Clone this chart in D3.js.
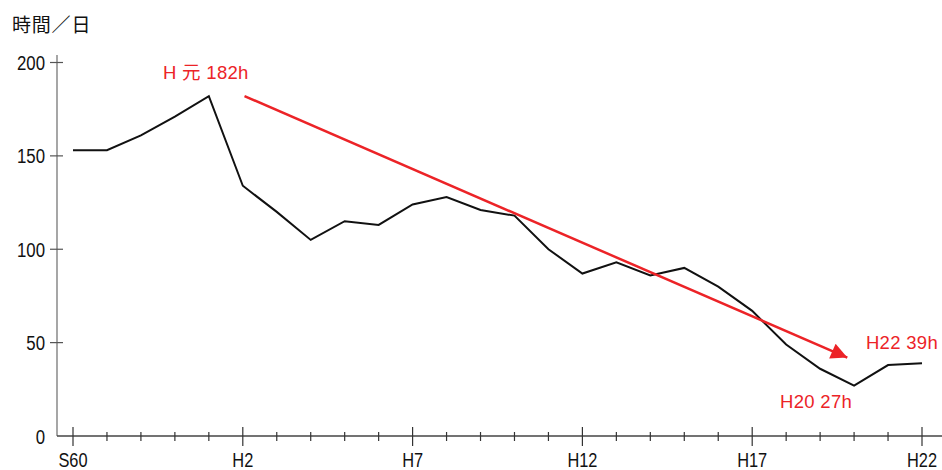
<!DOCTYPE html>
<html><head><meta charset="utf-8">
<script src="https://cdn.jsdelivr.net/npm/d3@7"></script>
<style>
body{margin:0;background:#fff;}
svg{display:block;}
</style></head>
<body>
<svg id="c" width="942" height="470"></svg>
<script>
const years = ["S60","S61","S62","S63","H1","H2","H3","H4","H5","H6","H7","H8","H9","H10","H11","H12","H13","H14","H15","H16","H17","H18","H19","H20","H21","H22"];
const hours = [153,153,161,171,182,134,120,105,115,113,124,128,121,118,100,87,93,86,90,80,67,49,36,27,38,39];
const majorLabels = ["S60","H2","H7","H12","H17","H22"];
const yTicks = [0,50,100,150,200];
const arrowFrom = [5.05, 182];
const arrowTo = [22.8, 42];
const notes = [
  {text:"H 元 182h", i:2.65, v:191},
  {text:"H22 39h", i:23.35, v:46.5},
  {text:"H20 27h", i:20.82, v:15}
];

const svg = d3.select("#c");
const x = d3.scaleLinear().domain([0, years.length-1]).range([73, 922]);
const y = d3.scaleLinear().domain([0, 200]).range([436, 62.5]);
const numFont = "'Liberation Sans',Arial,sans-serif";
const red = "#ec2327";

// title
svg.append("text").attr("x", 12).attr("y", 32)
  .attr("font-family", "'Noto Sans CJK JP',sans-serif").attr("font-size", 19)
  .attr("letter-spacing", 0.8)
  .attr("fill", "#111").text("時間／日");

// y axis
const yAx = svg.append("g");
yAx.append("line").attr("x1", 57).attr("x2", 57).attr("y1", y(0)).attr("y2", 55)
  .attr("stroke", "#777").attr("stroke-width", 1.3);
yTicks.forEach(t => {
  if (t > 0) yAx.append("line").attr("x1", 50).attr("x2", 63).attr("y1", y(t)).attr("y2", y(t))
    .attr("stroke", "#555").attr("stroke-width", 1.2);
  yAx.append("text").attr("transform", `translate(45,${y(t) + 7.5}) scale(0.82,1)`)
    .attr("text-anchor", "end").attr("font-family", numFont).attr("font-size", 20.5)
    .attr("fill", "#111").text(t);
});

// x axis
const xAx = svg.append("g");
xAx.append("line").attr("x1", 57).attr("x2", 942).attr("y1", y(0)).attr("y2", y(0))
  .attr("stroke", "#444").attr("stroke-width", 1.3);
years.forEach((yr, i) => {
  const major = majorLabels.includes(yr);
  xAx.append("line").attr("x1", x(i)).attr("x2", x(i))
    .attr("y1", y(0) - (major ? 9 : 4)).attr("y2", y(0) + (major ? 10 : 5))
    .attr("stroke", "#333").attr("stroke-width", 1.2);
  if (major) xAx.append("text").attr("transform", `translate(${x(i)},466.5) scale(0.82,1)`)
    .attr("text-anchor", "middle").attr("font-family", numFont).attr("font-size", 20)
    .attr("fill", "#111").text(yr);
});

// data line
svg.append("path").datum(hours)
  .attr("fill", "none").attr("stroke", "#111").attr("stroke-width", 2)
  .attr("stroke-linejoin", "miter")
  .attr("d", d3.line().x((d, i) => x(i)).y(d => y(d)));

// arrow
svg.append("defs").append("marker").attr("id", "ah")
  .attr("viewBox", "0 0 10 10").attr("refX", 10).attr("refY", 5)
  .attr("markerWidth", 7.5).attr("markerHeight", 6.5).attr("markerUnits", "strokeWidth")
  .attr("orient", "auto")
  .append("path").attr("d", "M0,0L10,5L0,10Z").attr("fill", red);
svg.append("line")
  .attr("x1", x(arrowFrom[0])).attr("y1", y(arrowFrom[1]))
  .attr("x2", x(arrowTo[0])).attr("y2", y(arrowTo[1]))
  .attr("stroke", red).attr("stroke-width", 2.5).attr("marker-end", "url(#ah)");

// annotations
notes.forEach(n => {
  svg.append("text").attr("x", x(n.i)).attr("y", y(n.v))
    .attr("text-anchor", "start")
    .attr("font-family", "'Liberation Sans','Noto Sans CJK JP',sans-serif")
    .attr("font-size", 18.5).attr("letter-spacing", 0.3).attr("fill", red).text(n.text);
});
</script>
</body></html>
